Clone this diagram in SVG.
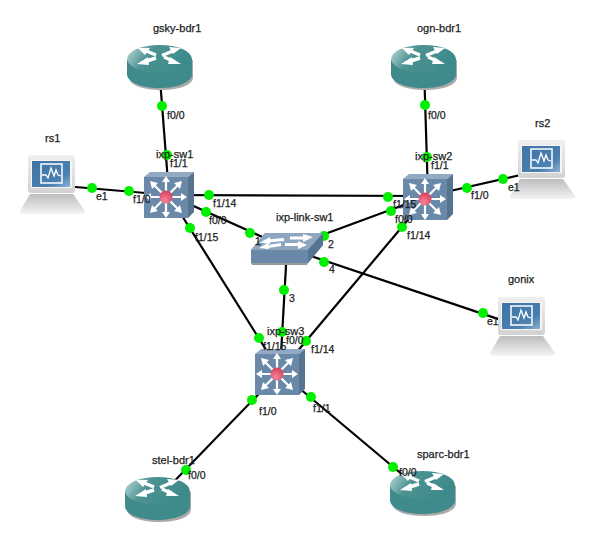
<svg xmlns="http://www.w3.org/2000/svg" width="595" height="541" viewBox="0 0 595 541">
<style>
text{font-family:"Liberation Sans",Arial,sans-serif;fill:#1c1c1c;stroke:#1c1c1c;stroke-width:.25}
.n{font-size:11px}
.p{font-size:10.5px}
.l{stroke:#000;stroke-width:2.2;fill:none}
.d{fill:#00f000}
.w{fill:#fff}
</style>
<defs>
<linearGradient id="rt" x1="0" y1="0" x2="1" y2="0.3"><stop offset="0" stop-color="#c4dede"/><stop offset=".4" stop-color="#4c9292"/><stop offset="1" stop-color="#3d8a8a"/></linearGradient>
<linearGradient id="sc" x1="0" y1="0" x2="1" y2="1"><stop offset="0" stop-color="#3f74a6"/><stop offset=".7" stop-color="#4a7fb0"/><stop offset="1" stop-color="#8fb2d0"/></linearGradient>
<linearGradient id="kb" x1="0" y1="0" x2="0" y2="1"><stop offset="0" stop-color="#bdbdbd"/><stop offset="1" stop-color="#f4f4f4"/></linearGradient>
<linearGradient id="mn" x1="0" y1="0" x2="0" y2="1"><stop offset="0" stop-color="#efefef"/><stop offset="1" stop-color="#d2d2d2"/></linearGradient>
<radialGradient id="rd" cx=".4" cy=".75" r=".8"><stop offset="0" stop-color="#f5849a"/><stop offset="1" stop-color="#d83a5a"/></radialGradient>
<g id="router">
<path d="M2 15V32C2 40 15 45 34 45S66 40 66 32V15Z" fill="#aaa"/>
<path d="M0 14V29C0 37 14 43 32.500 43S65 37 65 29V14Z" fill="#3f8a8a"/>
<ellipse cx="32.500" cy="14" rx="32.500" ry="14" fill="url(#rt)"/>
<path d="M29 10L18 5.500M35 10.500L47 5.500M29 13L18 16.500M37 12L47 16.500" stroke="#fff" stroke-width="3.500" fill="none"/>
<path class="w" d="M11 3L23 3 18 10ZM54 3L42 2 46 9ZM10 19L21 12 22 20ZM54 19L43 12 41 19Z"/>
</g>
<g id="mls">
<path d="M0 5L6 0H50L44 5Z" fill="#93aac4"/>
<path d="M44 5L50 0V40L44 46Z" fill="#56748f"/>
<rect x="0" y="5" width="44" height="41" fill="#6a89a8"/>
<path d="M22 25V8M22 25V42M22 25H5M22 25H39M22 25L10 13M22 25L34 13M22 25L10 37M22 25L34 37" stroke="#fff" stroke-width="2.200" fill="none"/>
<path class="w" d="M22 4L26 10H18ZM22 46L26 40H18ZM1 25L7 21V29ZM43 25L37 21V29Z"/>
<path class="w" d="M6 9L14 11 8 17ZM38 9L30 11 36 17ZM6 41L14 39 8 33ZM38 41L30 39 36 33Z"/>
<circle cx="22" cy="25" r="6.500" fill="url(#rd)"/>
</g>
<g id="l2">
<path d="M14 0H72V12L57 30H0V17Z" fill="#6a89a8"/>
<path d="M14 0H72L57 17H0Z" fill="#8ea6c0"/>
<path d="M57 17L72 0V12L57 30Z" fill="#56748f"/>
<path d="M0 30H57L56 32H1Z" fill="#999"/>
<path d="M33 6.500L16 8M39 5H54M30 11.500L14 14M34 11.500H48" stroke="#fff" stroke-width="3" fill="none"/>
<path class="w" d="M9 9.500L19 4 19 11ZM62 4L52 1 52 9ZM8 15L17 10 18 16ZM56 12L47 8 47 16Z"/>
</g>
<g id="pc">
<rect x="8" y="0" width="47" height="38" rx="3" fill="url(#mn)"/>
<rect x="11" y="5" width="41" height="28" fill="#f5f5f5"/>
<rect x="12" y="6" width="38" height="26" fill="url(#sc)"/>
<rect x="21" y="9" width="21" height="19" fill="none" stroke="#fff" stroke-width="1.500"/>
<path d="M22 20H26L28 23 31 13 34 21 36 15 38 20 41 21" fill="none" stroke="#fff" stroke-width="1.300"/>
<path d="M10 39H53L65 56Q65 59 61 59H4Q0 59 0 56Z" fill="url(#kb)"/>
</g>
</defs>
<g id="connectors">
<path class="l" d="M159 66L169 195"/>
<path class="l" d="M424 66L428 196"/>
<path class="l" d="M52 185L169 195"/>
<path class="l" d="M542 170L428 196"/>
<path class="l" d="M169 195L428 196"/>
<path class="l" d="M169 195L287 248"/>
<path class="l" d="M428 196L287 248"/>
<path class="l" d="M287 248L280 372"/>
<path class="l" d="M287 248L522 327"/>
<path class="l" d="M169 195L280 372"/>
<path class="l" d="M428 196L280 372"/>
<path class="l" d="M280 372L158 498"/>
<path class="l" d="M280 372L423 492"/>
<g>
<circle class="d" cx="162" cy="106" r="5"/><circle class="d" cx="167" cy="155" r="5"/>
<circle class="d" cx="92" cy="188" r="5"/><circle class="d" cx="129" cy="191" r="5"/>
<circle class="d" cx="209" cy="195" r="5"/><circle class="d" cx="206" cy="212" r="5"/>
<circle class="d" cx="190" cy="228" r="5"/><circle class="d" cx="250" cy="233" r="5"/>
<circle class="d" cx="388" cy="197" r="5"/><circle class="d" cx="391" cy="211" r="5"/>
<circle class="d" cx="402" cy="227" r="5"/><circle class="d" cx="467" cy="188" r="5"/>
<circle class="d" cx="503" cy="179" r="5"/><circle class="d" cx="427" cy="157" r="5"/>
<circle class="d" cx="425" cy="105" r="5"/><circle class="d" cx="324" cy="236" r="5"/>
<circle class="d" cx="324" cy="262" r="5"/><circle class="d" cx="483" cy="313" r="5"/>
<circle class="d" cx="284" cy="290" r="5"/><circle class="d" cx="282" cy="332" r="5"/>
<circle class="d" cx="259" cy="338" r="5"/><circle class="d" cx="306" cy="341" r="5"/>
<circle class="d" cx="252" cy="400" r="5"/><circle class="d" cx="311" cy="397" r="5"/>
<circle class="d" cx="186" cy="470" r="5"/><circle class="d" cx="393" cy="467" r="5"/>
</g>
</g>
<g id="gsky-bdr1"><use href="#router" x="127" y="45"/><text class="n" x="153" y="32">gsky-bdr1</text></g>
<g id="ogn-bdr1"><use href="#router" x="391" y="45"/><text class="n" x="417" y="32">ogn-bdr1</text></g>
<g id="stel-bdr1"><use href="#router" x="125" y="477"/><text class="n" x="152" y="464">stel-bdr1</text></g>
<g id="sparc-bdr1"><use href="#router" x="390" y="471"/><text class="n" x="417" y="458">sparc-bdr1</text></g>
<g id="ixp-sw1"><use href="#mls" x="144" y="172"/><text class="n" x="156" y="158">ixp-sw1</text></g>
<g id="ixp-sw2"><use href="#mls" x="403" y="174"/><text class="n" x="415" y="160">ixp-sw2</text></g>
<g id="ixp-sw3"><use href="#mls" x="255" y="349"/><text class="n" x="267" y="335">ixp-sw3</text></g>
<g id="ixp-link-sw1"><use href="#l2" x="251" y="233"/><text class="n" x="276" y="221">ixp-link-sw1</text></g>
<g id="rs1"><use href="#pc" x="20" y="155"/><text class="n" x="45" y="142">rs1</text></g>
<g id="rs2"><use href="#pc" x="510" y="140"/><text class="n" x="535" y="127">rs2</text></g>
<g id="gonix"><use href="#pc" x="490" y="297"/><text class="n" x="508" y="283">gonix</text></g>
<g id="port-labels">
<text class="p" x="167" y="119">f0/0</text><text class="p" x="170" y="167">f1/1</text>
<text class="p" x="96" y="200">e1</text><text class="p" x="133" y="203">f1/0</text>
<text class="p" x="213" y="207">f1/14</text><text class="p" x="209" y="224">f0/0</text>
<text class="p" x="195" y="241">f1/15</text><text class="p" x="255" y="245">1</text>
<text class="p" x="428" y="119">f0/0</text><text class="p" x="431" y="169">f1/1</text>
<text class="p" x="393" y="208">f1/15</text><text class="p" x="395" y="223">f0/0</text>
<text class="p" x="407" y="239">f1/14</text><text class="p" x="471" y="199">f1/0</text>
<text class="p" x="508" y="191">e1</text><text class="p" x="328" y="248">2</text>
<text class="p" x="329" y="273">4</text><text class="p" x="487" y="325">e1</text>
<text class="p" x="289" y="302">3</text><text class="p" x="263" y="350">f1/15</text>
<text class="p" x="286" y="344">f0/0</text><text class="p" x="311" y="353">f1/14</text>
<text class="p" x="259" y="415">f1/0</text><text class="p" x="313" y="412">f1/1</text>
<text class="p" x="188" y="479">f0/0</text><text class="p" x="399" y="476">f0/0</text>
</g>
</svg>
